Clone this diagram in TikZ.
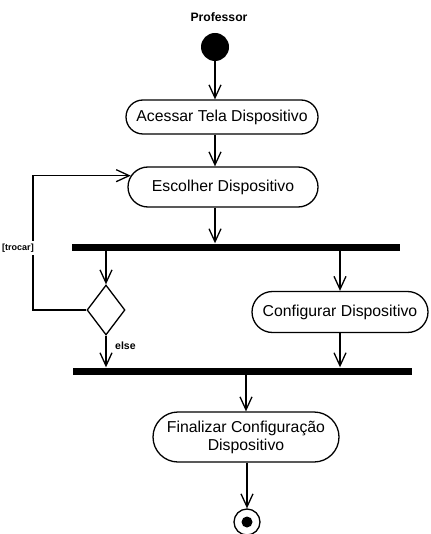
\documentclass[tikz,border=0pt]{standalone}
\usepackage{fontspec}
\setmainfont{Liberation Sans}
\usetikzlibrary{shapes.misc,shapes.geometric,arrows.meta}
\begin{document}
\begin{tikzpicture}[x=1pt,y=-1pt,
  act/.style={draw,rounded rectangle,line width=1.3pt,font=\fontsize{15.8}{18}\selectfont,inner sep=2pt,align=center},
  bar/.style={fill=black,draw=none,rectangle,minimum height=7pt,inner sep=0pt},
  flow/.style={line width=1.3pt,-{Straight Barb[length=13pt,width=12pt,line width=1.3pt]}},
  lbl/.style={font=\fontsize{10.5}{12}\selectfont\bfseries,inner sep=1pt}]
\useasboundingbox (0,0) rectangle (430,534);
\node[lbl,font=\fontsize{12.2}{14}\selectfont\bfseries] (prof) at (219,17) {Professor};
\node[circle,fill=black,minimum size=28pt,inner sep=0pt] (init) at (215,47) {};
\node[act,minimum width=196pt,minimum height=34pt] (acc) at (222,117) {Acessar Tela Dispositivo};
\node[act,minimum width=194pt,minimum height=40pt] (esc) at (223,187) {Escolher Dispositivo};
\node[bar,minimum width=328pt] (fork) at (236,247) {};
\node[draw,diamond,line width=1.3pt,minimum width=38pt,minimum height=50pt,inner sep=0pt,aspect=0.76] (dia) at (106,310) {};
\node[act,minimum width=180pt,minimum height=41pt] (cfg) at (340,312) {Configurar Dispositivo};
\node[bar,minimum width=339pt] (join) at (242.5,371) {};
\node[act,minimum width=190pt,minimum height=50pt] (fin) at (246,437) {Finalizar Configuração\\Dispositivo};
\node[circle,draw,line width=1.3pt,minimum size=26pt,inner sep=0pt] (final) at (247,522) {};
\node[circle,fill=black,minimum size=11pt,inner sep=0pt] (finaldot) at (final) {};
\coordinate (lc) at (33,300);
% flows
\draw[flow] (init) -- (acc.north -| init);
\draw[flow] (acc.south -| init) -- (esc.north -| init);
\draw[flow] (esc.south -| init) -- (fork.north -| init);
\draw[flow] (fork.south -| dia) -- (dia.north);
\draw[flow] (fork.south -| cfg) -- (cfg.north);
\draw[flow] (dia.south) -- (join.north -| dia);
\draw[flow] (cfg.south) -- (join.north -| cfg);
\draw[flow] (join.south -| fin) -- (fin.north);
\draw[flow] (fin.south -| final) -- (final.north);
\draw[flow] (dia.west) -| (lc |- esc.173) -- (esc.173);
\node[lbl,fill=white,inner sep=2.5pt,font=\fontsize{9}{11}\selectfont\bfseries] (trocar) at (18,248) {[trocar]};
\node[lbl,anchor=west] (else) at (114,346) {else};
\end{tikzpicture}
\end{document}
